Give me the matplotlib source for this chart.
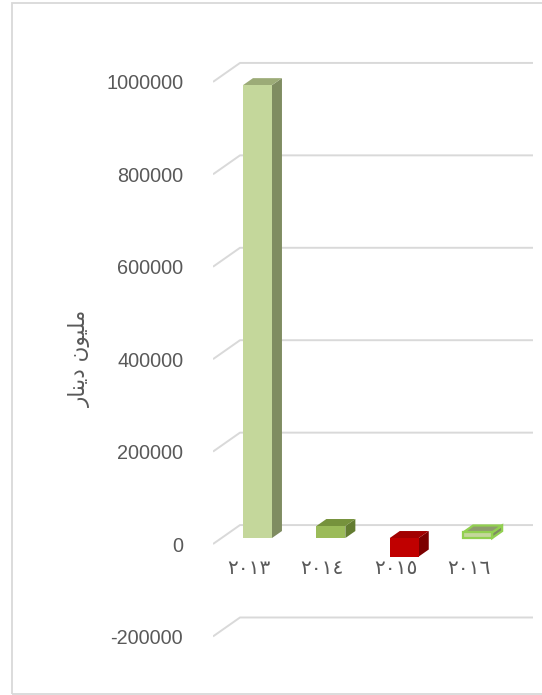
import numpy as np
import matplotlib.pyplot as plt
from matplotlib.patches import Polygon, Rectangle

# datos
anios = ['٢٠١٣', '٢٠١٤', '٢٠١٥', '٢٠١٦']
valores = [980000, 26000, -40000, 12000]
ticks = [-200000, 0, 200000, 400000, 600000, 800000, 1000000]
etiqueta_y = 'ﺭﺎﻨﻳﺩ ﻥﻮﻴﻠﻣ'  # "مليون دينار" ya con formas de presentacion y orden visual

frentes = ['#C4D79B', '#9BBB59', '#C00000', '#C4D79B']
techos = ['#9CAB77', '#76923C', '#A20000', '#8E9C6E']
lados = ['#7F8C61', '#637C31', '#7C0000', '#7F8C61']
bordes = [None, None, None, '#92D050']

gris = '#595959'
linea = '#D9D9D9'

fig = plt.figure(figsize=(5.42, 6.95), dpi=100)
# marco del grafico (el borde derecho queda fuera de la imagen)
fig.patches.append(Rectangle((12 / 542, 1.5 / 695), 560 / 542, 691 / 695,
                             transform=fig.transFigure, fill=False,
                             edgecolor=linea, linewidth=1.3))

# ejes: izquierda px 213, derecha px 533, arriba px 50, abajo px 660
ax = fig.add_axes([213 / 542, 35 / 695, 320 / 542, 610 / 695])
ax.set_xlim(-0.49, 3.87)
ax.set_ylim(-251000, 1069000)
for s in ax.spines.values():
    s.set_visible(False)
ax.set_xticks([])
ax.set_yticks(ticks)
ax.set_yticklabels([str(t) for t in ticks], fontsize=14.3, color=gris,
                   family='Liberation Sans')
ax.tick_params(axis='y', length=0, pad=21.5)

# profundidad del "3D"
dx, dy = 0.368, 41000
x0, x1 = -0.49, 3.87
for t in ticks:
    ax.plot([x0, x0 + dx, x1], [t, t + dy, t + dy], color=linea, lw=1.4,
            zorder=1, solid_capstyle='butt')

ancho = 0.395
off = 0.315
prof = 0.37
for i, v in enumerate(valores):
    xa = i + off * dx - ancho / 2
    xb = xa + ancho
    base = off * dy
    arriba = base + max(v, 0)
    abajo = base + min(v, 0)
    ddx, ddy = prof * dx, prof * dy
    ec = bordes[i] if bordes[i] else 'none'
    lw = 1.6 if bordes[i] else 0
    lado = Polygon([(xb, abajo), (xb + ddx, abajo + ddy),
                    (xb + ddx, arriba + ddy), (xb, arriba)],
                   facecolor=lados[i], edgecolor=ec, linewidth=lw, zorder=3)
    techo = Polygon([(xa, arriba), (xb, arriba), (xb + ddx, arriba + ddy),
                     (xa + ddx, arriba + ddy)],
                    facecolor=techos[i], edgecolor=ec, linewidth=lw, zorder=3)
    frente = Rectangle((xa, abajo), ancho, arriba - abajo,
                       facecolor=frentes[i], edgecolor=ec, linewidth=lw, zorder=4)
    ax.add_patch(lado)
    ax.add_patch(techo)
    ax.add_patch(frente)
    ax.annotate(anios[i], (i, 0), xytext=(0, -17.5), textcoords='offset points',
                ha='center', va='center', fontsize=14.5, color=gris,
                family='DejaVu Sans')

fig.text(80 / 542, 1 - 358 / 695, etiqueta_y, rotation=90, ha='center',
         va='center', fontsize=15.5, color=gris, family='DejaVu Sans')

fig.savefig('out.png', dpi=100)
